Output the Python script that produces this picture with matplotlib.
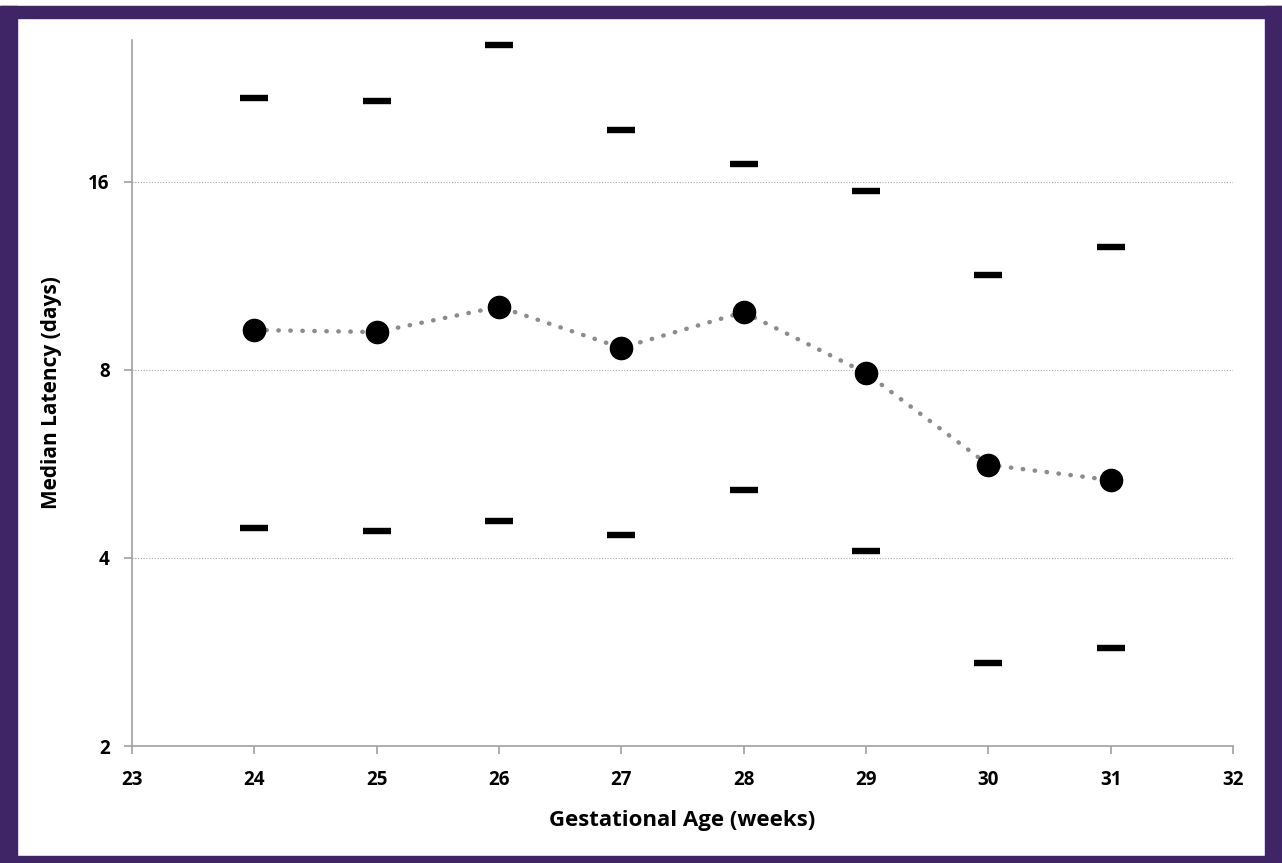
import matplotlib
matplotlib.use("Agg")
import matplotlib.pyplot as plt
from matplotlib.patches import Rectangle
from matplotlib.ticker import FixedLocator, NullLocator

weeks = [24, 25, 26, 27, 28, 29, 30, 31]
median = [9.27, 9.2, 10.1, 8.68, 9.9, 7.91, 5.64, 5.33]
upper = [21.8, 21.6, 26.5, 19.4, 17.1, 15.5, 11.35, 12.6]
lower = [4.47, 4.42, 4.58, 4.36, 5.14, 4.1, 2.72, 2.87]
yticks = [2, 4, 8, 16]
xticks = [23, 24, 25, 26, 27, 28, 29, 30, 31, 32]

plt.rcParams['font.family'] = ['Open Sans', 'DejaVu Sans']

fig = plt.figure(figsize=(12.82, 8.63), dpi=100)
W, H = 1282, 863
purple = '#3F2566'
# frame
for (x0, y0, w, h) in [(0, 6, W, 12), (0, 6, 17, H - 6), (1265, 6, 17, H - 6), (0, 856, W, 7)]:
    fig.patches.append(Rectangle((x0 / W, 1 - (y0 + h) / H), w / W, h / H,
                                 transform=fig.transFigure, color=purple, zorder=0))

ax = fig.add_axes([132 / W, 1 - 746 / H, (1233 - 132) / W, (746 - 40) / H])
ax.set_yscale('log', base=2)
ax.set_ylim(2, 27.0)
ax.set_xlim(23, 32)

ax.yaxis.set_major_locator(FixedLocator(yticks))
ax.yaxis.set_minor_locator(NullLocator())
ax.set_yticklabels([str(v) for v in yticks])
ax.set_xticks(xticks)
ax.set_xticklabels([str(v) for v in xticks])

for v in yticks[1:]:
    ax.axhline(v, color='#A8A8A8', lw=0.8, ls=(0, (1, 1.5)), zorder=1)

ax.plot(weeks, median, color='#8C8C8C', lw=3.2, ls=(0, (0.1, 2.6)),
        dash_capstyle='round', zorder=2)
ax.plot(weeks, median, 'o', color='black', ms=16, zorder=3)
ax.plot(weeks, upper, '_', color='black', ms=20, mew=4.6, zorder=3)
ax.plot(weeks, lower, '_', color='black', ms=20, mew=4.6, zorder=3)

for s in ['top', 'right']:
    ax.spines[s].set_visible(False)
for s in ['left', 'bottom']:
    ax.spines[s].set_color('#A0A0A0')
    ax.spines[s].set_linewidth(1.2)

ax.tick_params(axis='both', which='major', color='#A0A0A0', length=6, width=1.2,
               labelsize=13.5)
ax.tick_params(axis='x', pad=11)
ax.tick_params(axis='y', pad=10)
for lab in ax.get_xticklabels() + ax.get_yticklabels():
    lab.set_fontweight('bold')

ax.set_xlabel('Gestational Age (weeks)', fontsize=16, fontweight='bold', labelpad=15)
ax.set_ylabel('Median Latency (days)', fontsize=15, fontweight='bold', labelpad=19)

fig.savefig('out.png', dpi=100, facecolor='white')
